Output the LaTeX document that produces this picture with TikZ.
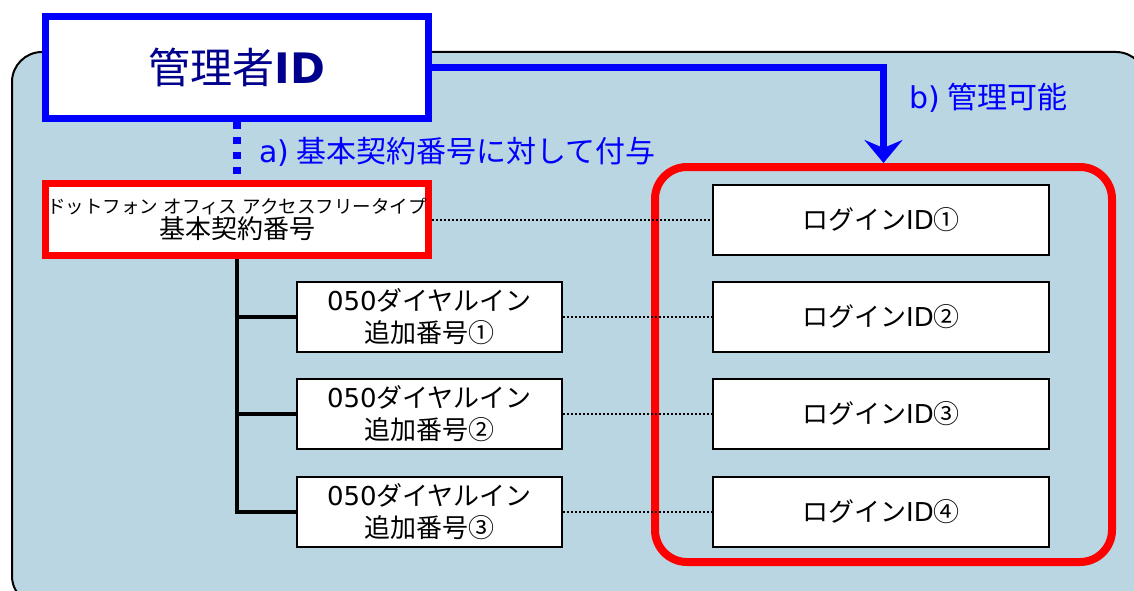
\documentclass[tikz,border=0pt]{standalone}
\usepackage{fontspec}
\setmainfont{Noto Sans CJK JP}
\newfontfamily\lat{DejaVu Sans}
\usetikzlibrary{arrows.meta}
\definecolor{bgblue}{RGB}{186,214,226}
\definecolor{idblue}{RGB}{0,0,255}
\definecolor{adminnavy}{RGB}{0,0,140}
\tikzset{
  idbox/.style={draw,line width=2pt,fill=white,minimum width=336pt,minimum height=70pt,
    font=\fontsize{26}{32}\selectfont},
  subbox/.style={idbox,minimum width=265pt,align=center},
  link/.style={line width=2pt,dash pattern=on 2pt off 2pt},
  tree/.style={line width=4pt},
  bluelabel/.style={anchor=west,text=idblue,font=\fontsize{30}{30}\selectfont}
}
\begin{document}
\begin{tikzpicture}[x=1pt,y=-1pt]
  \clip (0,0) rectangle (1134,591);
  \draw[fill=bgblue,line width=2pt,rounded corners=30pt] (12,52) rectangle (1146,606);
  % top level
  \node[draw=idblue,line width=7pt,fill=white,minimum width=383pt,minimum height=102pt,
    text=adminnavy,font=\fontsize{42}{42}\selectfont] (admin) at (237,67.5) {管理者{\lat\bfseries ID}};
  \node[draw=red,line width=7pt,fill=white,minimum width=383pt,minimum height=72pt,
    align=center,inner sep=0pt] (basic) at (237,219.5)
    {{\fontsize{18.5}{24}\selectfont ドットフォン\hspace{0.3em}オフィス\hspace{0.3em}アクセスフリータイプ}\\
     {\fontsize{26}{26}\selectfont 基本契約番号}};
  \draw[idblue,line width=8pt,dash pattern=on 7pt off 8pt] (admin.south) -- (basic.north);
  \node[bluelabel] (grant) at (256,152) {{\lat a)} 基本契約番号に対して付与};
  % login ids
  \node[draw=red,line width=8pt,rounded corners=32pt,minimum width=457pt,minimum height=395pt] (logins) at (883.5,364.5) {};
  \foreach \i/\y/\c in {1/220/①,2/316.5/②,3/414/③,4/512/④}
    \node[idbox] (login\i) at (881,\y) {ログイン{\lat ID}\c};
  \draw[idblue,line width=7pt,-{Stealth[length=23pt,width=38pt,inset=8pt]}] (admin.east) -| (logins.north);
  \node[bluelabel] (manage) at (906,98) {{\lat b)} 管理可能};
  % numbers
  \foreach \i/\y/\c in {1/316.5/①,2/414/②,3/512/③}
    \node[subbox] (sub\i) at (429.5,\y) {{\lat 050}ダイヤルイン\\追加番号\c};
  \draw[tree] (basic.south) |- (sub3.west);
  \foreach \i in {1,2}
    \draw[tree] (basic.south |- sub\i.west) -- (sub\i.west);
  \draw[link] (basic.east) -- (basic.east -| login1.west);
  \foreach \i/\j in {1/2,2/3,3/4}
    \draw[link] (sub\i.east) -- (login\j.west);
\end{tikzpicture}
\end{document}
